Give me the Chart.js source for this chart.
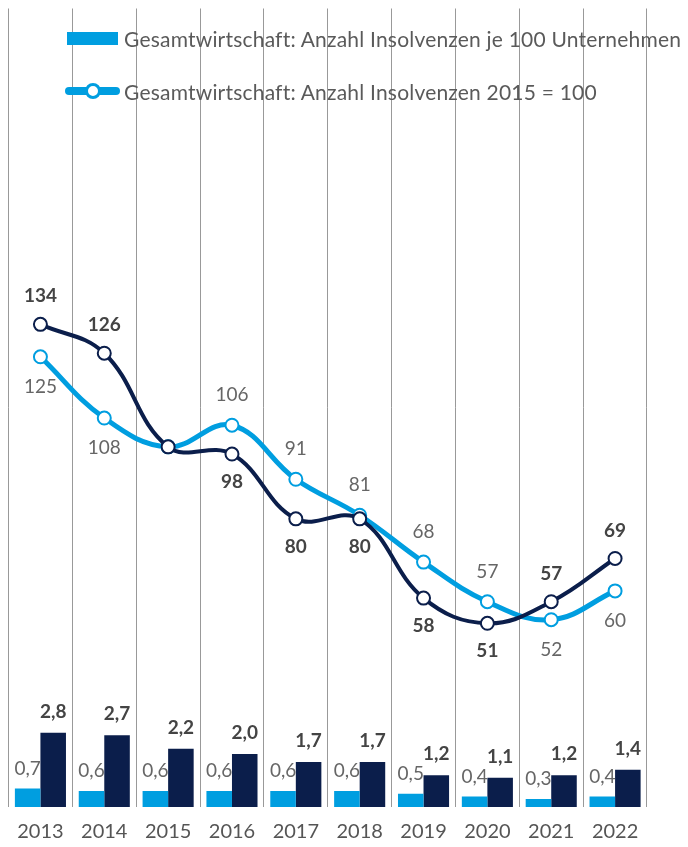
<!DOCTYPE html>
<html>
<head>
<meta charset="utf-8">
<script src="https://cdn.jsdelivr.net/npm/chart.js@4.4.1/dist/chart.umd.min.js"></script>
<style>
    body { margin: 0; background: #fff; }
    #wrap { position: relative; width: 688px; height: 847px; }
    .legend-row {
        position: absolute;
        left: 65px;
        height: 26px;
        display: flex;
        align-items: center;
        font: 400 21px Lato, sans-serif;
        letter-spacing: 0.2px;
        color: #5a5a5a;
        white-space: nowrap;
    }
    .swatch-bar { width: 51px; height: 13px; background: #009EE0; margin: 0 6px 0 2px; }
    .swatch-line { position: relative; width: 55px; height: 8px; border-radius: 4px; background: #009EE0; margin-right: 4px; }
    .swatch-line span {
        position: absolute; left: 20px; top: -4px;
        width: 10px; height: 10px; border-radius: 50%;
        background: #fff; border: 3px solid #009EE0;
    }
</style>
</head>
<body>
<div id="wrap">
    <canvas id="insolvenzChart"></canvas>
    <div class="legend-row" style="top: 25px;"><div class="swatch-bar"></div>Gesamtwirtschaft: Anzahl Insolvenzen je 100 Unternehmen</div>
    <div class="legend-row" style="top: 78px;"><div class="swatch-line"><span></span></div>Gesamtwirtschaft: Anzahl Insolvenzen 2015 = 100</div>
</div>
<script>
// Werte
const years = ['2013', '2014', '2015', '2016', '2017', '2018', '2019', '2020', '2021', '2022'];
const gesamtRate = [0.7, 0.6, 0.6, 0.6, 0.6, 0.6, 0.5, 0.4, 0.3, 0.4];
const branchRate = [2.8, 2.7, 2.2, 2.0, 1.7, 1.7, 1.2, 1.1, 1.2, 1.4];
const gesamtIndex = [125, 108, 100, 106, 91, 81, 68, 57, 52, 60];
const branchIndex = [134, 126, 100, 98, 80, 80, 58, 51, 57, 69];

// where the value label sits relative to the point (null = no label)
const gesamtLabelSide = ['below', 'below', null, 'above', 'above', 'above', 'above', 'above', 'below', 'below'];
const branchLabelSide = ['above', 'above', null, 'below', 'below', 'below', 'below', 'below', 'above', 'above'];

const lightBlue = '#009EE0';
const navy = '#0B1E4B';

const fmtComma = v => v.toFixed(1).replace('.', ',');
const fmtInt = v => String(v);

// Draw value labels next to bars and points
const valueLabels = {
    id: 'valueLabels',
    afterDatasetsDraw(chart) {
        const ctx = chart.ctx;
        chart.data.datasets.forEach((ds, i) => {
            if (!ds.valueLabel) return;
            const meta = chart.getDatasetMeta(i);
            const cfg = ds.valueLabel;
            meta.data.forEach((el, j) => {
                const side = cfg.sides ? cfg.sides[j] : 'above';
                if (!side) return;
                const dy = side === 'above' ? -cfg.offset : cfg.offset;
                ctx.save();
                ctx.font = cfg.font;
                ctx.fillStyle = cfg.color;
                ctx.textAlign = 'center';
                ctx.textBaseline = 'middle';
                ctx.fillText(cfg.format(ds.data[j]), el.x, el.y + dy);
                ctx.restore();
            });
        });
    }
};

const ctx = document.getElementById('insolvenzChart');

new Chart(ctx.getContext('2d'), {
    data: {
        labels: years,
        datasets: [
            {
                type: 'line',
                label: 'Branche: Anzahl Insolvenzen 2015 = 100',
                data: branchIndex,
                yAxisID: 'yLine',
                borderColor: navy,
                borderWidth: 4,
                tension: 0.4,
                pointRadius: 6.5,
                pointBorderWidth: 2,
                pointBackgroundColor: '#fff',
                pointBorderColor: navy,
                order: 0,
                valueLabel: { sides: branchLabelSide, offset: 28, font: 'bold 19px Lato', color: '#444', format: fmtInt }
            },
            {
                type: 'line',
                label: 'Gesamtwirtschaft: Anzahl Insolvenzen 2015 = 100',
                data: gesamtIndex,
                yAxisID: 'yLine',
                borderColor: lightBlue,
                borderWidth: 5,
                tension: 0.4,
                pointRadius: 6.5,
                pointBorderWidth: 2,
                pointBackgroundColor: '#fff',
                pointBorderColor: lightBlue,
                order: 1,
                valueLabel: { sides: gesamtLabelSide, offset: 30, font: '19px Lato', color: '#666', format: fmtInt }
            },
            {
                type: 'bar',
                label: 'Gesamtwirtschaft: Anzahl Insolvenzen je 100 Unternehmen',
                data: gesamtRate,
                yAxisID: 'yBar',
                backgroundColor: lightBlue,
                categoryPercentage: 0.8,
                barPercentage: 1.0,
                order: 2,
                valueLabel: { offset: 20, font: '19px Lato', color: '#666', format: fmtComma }
            },
            {
                type: 'bar',
                label: 'Branche: Anzahl Insolvenzen je 100 Unternehmen',
                data: branchRate,
                yAxisID: 'yBar',
                backgroundColor: navy,
                categoryPercentage: 0.8,
                barPercentage: 1.0,
                order: 2,
                valueLabel: { offset: 21, font: 'bold 19px Lato', color: '#444', format: fmtComma }
            }
        ]
    },
    options: {
        responsive: true,
        maintainAspectRatio: false,
        animation: false,
        events: [],
        layout: {
            // x axis reserves padding twice, pull the area back down
            padding: { left: 7, right: 41, top: 0, bottom: -10 }
        },
        scales: {
            x: {
                offset: true,
                border: { display: false },
                grid: {
                    offset: true,
                    color: '#999',
                    lineWidth: 1,
                    drawTicks: false
                },
                ticks: {
                    padding: 13,
                    color: '#555',
                    font: { family: 'Lato', size: 20 }
                }
            },
            yLine: {
                display: false,
                min: 0,
                max: 221.7
            },
            yBar: {
                display: false,
                min: 0,
                max: 30.1
            }
        },
        plugins: {
            legend: { display: false },
            tooltip: { enabled: false }
        }
    },
    plugins: [valueLabels]
});
</script>
</body>
</html>
